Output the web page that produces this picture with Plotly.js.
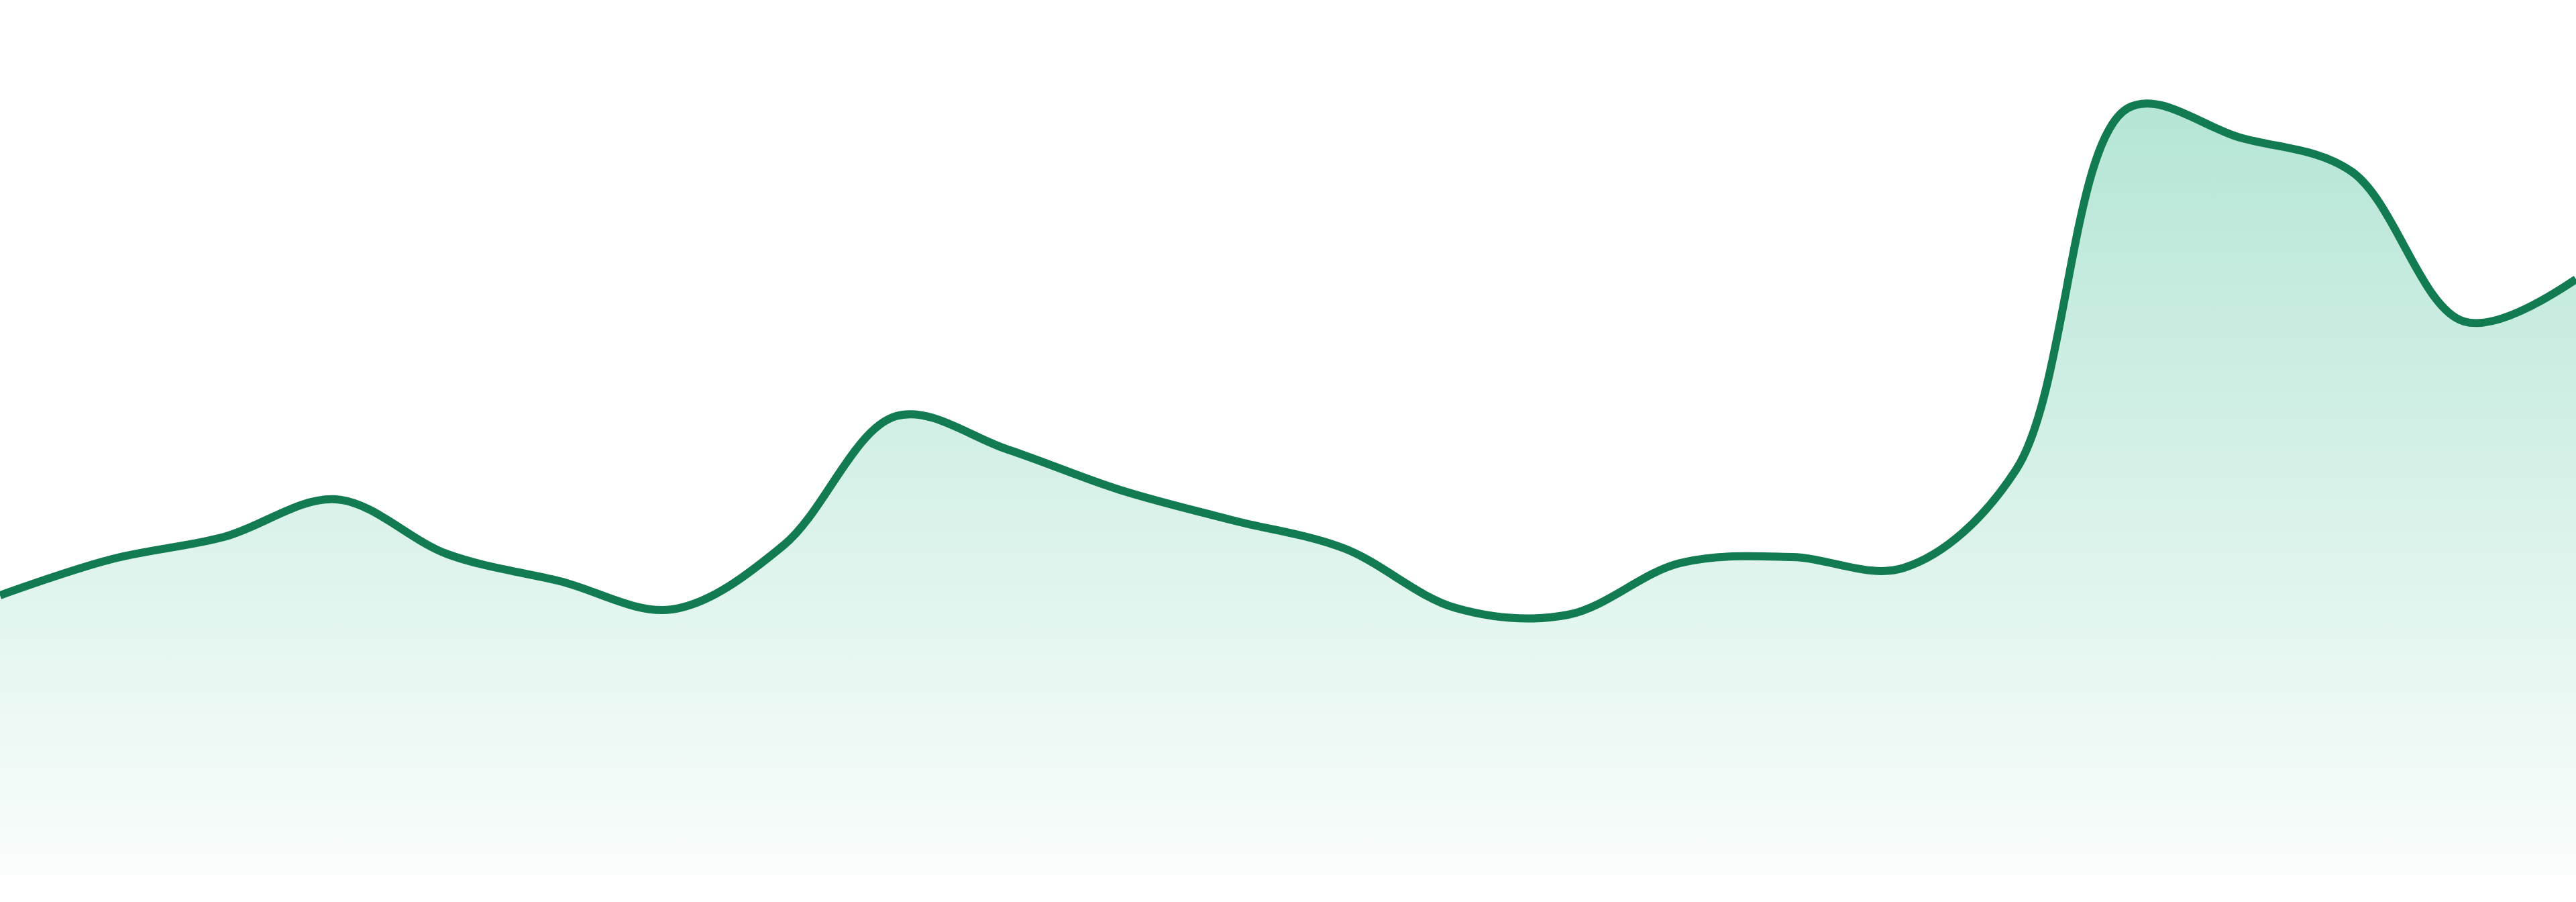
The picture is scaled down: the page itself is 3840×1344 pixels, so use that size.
<!DOCTYPE html>
<html>
<head>
<meta charset="utf-8">
<script src="https://cdn.plot.ly/plotly-3.0.1.min.js"></script>
<style>
  html, body { margin: 0; padding: 0; background: #ffffff; }
  #chart { width: 3840px; height: 1344px; }
</style>
</head>
<body>
<div id="chart"></div>
<script>
// 24 evenly spaced samples, no labels in the picture
var days = [];
for (var i = 0; i < 24; i++) days.push(i);

var prices = [41.8, 47.2, 50.5, 56.1, 47.9, 43.9, 39.7, 49.3, 68.5, 63.5, 57.5, 53.0,
              48.8, 39.9, 38.9, 46.6, 47.5, 45.9, 60.5, 114.4, 110.0, 104.9, 82.6, 88.9];

var lineColor = '#127b52';

var trace = {
  x: days,
  y: prices,
  type: 'scatter',
  mode: 'lines',
  line: { color: lineColor, width: 12, shape: 'spline', smoothing: 1 },
  fill: 'tozeroy',
  fillgradient: {
    type: 'vertical',
    colorscale: [
      [0, 'rgba(16,172,122,0.02)'],
      [1, 'rgba(16,172,122,0.31)']
    ]
  },
  hoverinfo: 'skip'
};

var layout = {
  width: 3840,
  height: 1344,
  margin: { l: 0, r: 0, t: 0, b: 39 },
  paper_bgcolor: '#ffffff',
  plot_bgcolor: '#ffffff',
  showlegend: false,
  xaxis: { range: [0, 23], visible: false, showgrid: false, zeroline: false, fixedrange: true },
  yaxis: { range: [0, 130.5], visible: false, showgrid: false, zeroline: false, fixedrange: true }
};

Plotly.newPlot('chart', [trace], layout, { displayModeBar: false, staticPlot: true });
</script>
</body>
</html>
